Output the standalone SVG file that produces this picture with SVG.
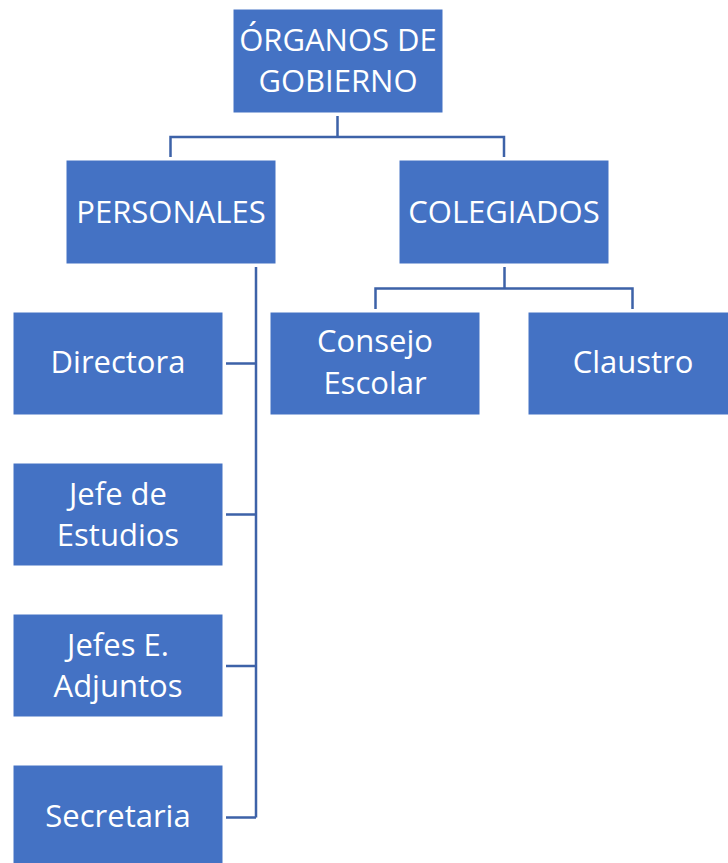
<svg xmlns="http://www.w3.org/2000/svg" width="728" height="863" viewBox="0 0 728 863">
<style>
.box{fill:#4472C4;stroke:#FFFFFF;stroke-width:1}
.t{font-family:"Open Sans","Noto Sans",sans-serif;font-size:31px;fill:#FFFFFF;text-anchor:middle}
.c{fill:none;stroke:#3D62A8;stroke-width:2.5}
</style>
<rect width="728" height="863" fill="#FFFFFF"/>
<g id="connectors">
<path class="c" d="M337.5,116 V137 M170.5,157 V137 H504 V157"/>
<path class="c" d="M504.5,267 V288.5 M375.5,309 V288.5 H632.5 V309"/>
<path class="c" d="M256,267 V817.5 M226,363.5 H256 M226,514.5 H256 M226,666 H256 M226,817.5 H256"/>
</g>
<g id="organos">
<rect class="box" x="233" y="9" width="210" height="104"/>
<text class="t" x="338" y="50.5">ÓRGANOS DE</text>
<text class="t" x="338" y="92">GOBIERNO</text>
</g>
<g id="personales">
<rect class="box" x="66" y="160" width="210" height="104"/>
<text class="t" x="171" y="222.5">PERSONALES</text>
</g>
<g id="colegiados">
<rect class="box" x="399" y="160" width="210" height="104"/>
<text class="t" x="504" y="222.5">COLEGIADOS</text>
</g>
<g id="directora">
<rect class="box" x="13" y="312" width="210" height="103"/>
<text class="t" x="118" y="373">Directora</text>
</g>
<g id="jefe-estudios">
<rect class="box" x="13" y="463" width="210" height="103"/>
<text class="t" x="118" y="505">Jefe de</text>
<text class="t" x="118" y="546">Estudios</text>
</g>
<g id="jefes-adjuntos">
<rect class="box" x="13" y="614" width="210" height="103"/>
<text class="t" x="118" y="656">Jefes E.</text>
<text class="t" x="118" y="697">Adjuntos</text>
</g>
<g id="secretaria">
<rect class="box" x="13" y="765" width="210" height="103"/>
<text class="t" x="118" y="827">Secretaria</text>
</g>
<g id="consejo">
<rect class="box" x="270" y="312" width="210" height="103"/>
<text class="t" x="375" y="352">Consejo</text>
<text class="t" x="375" y="394">Escolar</text>
</g>
<g id="claustro">
<rect class="box" x="528" y="312" width="210" height="103"/>
<text class="t" x="633" y="373">Claustro</text>
</g>
</svg>
